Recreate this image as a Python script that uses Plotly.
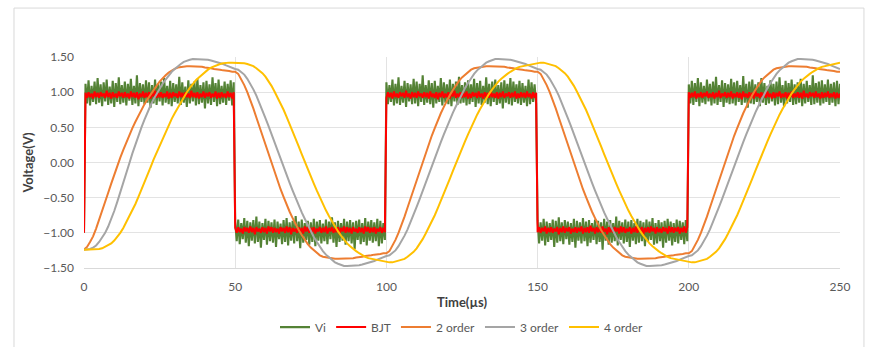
import numpy as np
import plotly.graph_objects as go

# ---------------- data ----------------
# Time axis (µs)
t_fast = np.arange(0, 250.25, 0.5)   # sample times of Vi and BJT (501 samples)
t_filt = np.arange(0, 251, 1)        # sample times of filter outputs (251 samples)

vi = [-1.00,
 1.12, 0.84, 1.17, 0.81, 1.09, 0.86, 1.15, 0.83, 1.20, 0.85,
 1.11, 0.80, 1.14, 0.87, 1.18, 0.82, 1.08, 0.84, 1.16, 0.79,
 1.13, 0.86, 1.21, 0.83, 1.10, 0.85, 1.15, 0.81, 1.12, 0.88,
 1.19, 0.82, 1.09, 0.84, 1.24, 0.80, 1.13, 0.86, 1.11, 0.83,
 1.17, 0.85, 1.14, 0.78, 1.10, 0.84, 1.18, 0.82, 1.12, 0.87,
 1.15, 0.81, 1.20, 0.85, 1.09, 0.83, 1.16, 0.80, 1.13, 0.86,
 1.11, 0.84, 1.22, 0.82, 1.14, 0.85, 1.08, 0.79, 1.17, 0.84,
 1.12, 0.87, 1.15, 0.81, 1.19, 0.83, 1.10, 0.85, 1.14, 0.77,
 1.16, 0.84, 1.11, 0.82, 1.21, 0.86, 1.13, 0.80, 1.18, 0.83,
 1.09, 0.85, 1.15, 0.82, 1.12, 0.88, 1.17, 0.81, 1.14,
 -0.84, -1.12, -0.81, -1.16, -0.86, -1.09, -0.79, -1.14, -0.83, -1.19,
 -0.85, -1.11, -0.82, -1.15, -0.77, -1.13, -0.84, -1.21, -0.86, -1.10,
 -0.80, -1.17, -0.83, -1.12, -0.85, -1.14, -0.81, -1.20, -0.84, -1.09,
 -0.87, -1.16, -0.82, -1.13, -0.79, -1.18, -0.85, -1.11, -0.83, -1.15,
 -0.76, -1.12, -0.84, -1.22, -0.81, -1.14, -0.86, -1.10, -0.83, -1.17,
 -0.85, -1.13, -0.80, -1.19, -0.84, -1.11, -0.82, -1.15, -0.87, -1.12,
 -0.81, -1.16, -0.84, -1.09, -0.78, -1.14, -0.85, -1.20, -0.83, -1.13,
 -0.86, -1.11, -0.80, -1.17, -0.84, -1.12, -0.82, -1.15, -0.85, -1.23,
 -0.83, -1.10, -0.81, -1.16, -0.86, -1.13, -0.79, -1.18, -0.84, -1.11,
 -0.82, -1.14, -0.85, -1.12, -0.80, -1.19, -0.83, -1.15, -0.86, -1.10,
 1.14, 0.83, 1.10, 0.86, 1.18, 0.81, 1.12, 0.84, 1.21, 0.82,
 1.09, 0.85, 1.16, 0.79, 1.13, 0.87, 1.11, 0.83, 1.19, 0.84,
 1.15, 0.80, 1.12, 0.86, 1.24, 0.82, 1.10, 0.85, 1.17, 0.83,
 1.13, 0.78, 1.16, 0.84, 1.09, 0.86, 1.20, 0.81, 1.14, 0.85,
 1.11, 0.83, 1.18, 0.80, 1.12, 0.87, 1.15, 0.82, 1.22, 0.84,
 1.10, 0.85, 1.14, 0.81, 1.17, 0.83, 1.11, 0.86, 1.19, 0.79,
 1.13, 0.84, 1.16, 0.82, 1.09, 0.85, 1.21, 0.83, 1.12, 0.80,
 1.15, 0.86, 1.18, 0.82, 1.10, 0.84, 1.14, 0.77, 1.17, 0.85,
 1.12, 0.83, 1.20, 0.81, 1.15, 0.86, 1.11, 0.84, 1.16, 0.82,
 1.13, 0.85, 1.09, 0.80, 1.18, 0.83, 1.14, 0.86, 1.11, 0.84,
 -0.82, -1.15, -0.85, -1.11, -0.80, -1.18, -0.84, -1.13, -0.86, -1.10,
 -0.81, -1.20, -0.83, -1.14, -0.78, -1.12, -0.85, -1.16, -0.82, -1.09,
 -0.84, -1.17, -0.86, -1.13, -0.80, -1.21, -0.83, -1.11, -0.85, -1.15,
 -0.79, -1.12, -0.84, -1.19, -0.82, -1.14, -0.86, -1.10, -0.81, -1.16,
 -0.83, -1.13, -0.85, -1.24, -0.80, -1.11, -0.84, -1.17, -0.82, -1.14,
 -0.86, -1.12, -0.77, -1.18, -0.83, -1.10, -0.85, -1.15, -0.81, -1.13,
 -0.84, -1.20, -0.82, -1.11, -0.86, -1.16, -0.80, -1.14, -0.83, -1.12,
 -0.85, -1.19, -0.81, -1.13, -0.84, -1.10, -0.79, -1.17, -0.86, -1.15,
 -0.82, -1.12, -0.85, -1.21, -0.83, -1.14, -0.80, -1.11, -0.84, -1.18,
 -0.86, -1.13, -0.81, -1.15, -0.83, -1.10, -0.85, -1.16, -0.82, -1.12,
 1.11, 0.84, 1.16, 0.82, 1.13, 0.86, 1.20, 0.80, 1.14, 0.85,
 1.09, 0.83, 1.18, 0.87, 1.12, 0.81, 1.15, 0.84, 1.22, 0.82,
 1.10, 0.86, 1.17, 0.79, 1.13, 0.85, 1.11, 0.83, 1.19, 0.84,
 1.14, 0.81, 1.16, 0.86, 1.10, 0.82, 1.23, 0.85, 1.12, 0.78,
 1.15, 0.84, 1.18, 0.83, 1.11, 0.86, 1.14, 0.80, 1.20, 0.85,
 1.13, 0.82, 1.09, 0.84, 1.17, 0.87, 1.12, 0.81, 1.15, 0.83,
 1.21, 0.85, 1.10, 0.79, 1.16, 0.84, 1.13, 0.86, 1.18, 0.82,
 1.11, 0.83, 1.14, 0.85, 1.19, 0.80, 1.12, 0.84, 1.16, 0.86,
 1.10, 0.82, 1.24, 0.83, 1.13, 0.85, 1.15, 0.81, 1.17, 0.84,
 1.11, 0.86, 1.18, 0.82, 1.12, 0.85, 1.14, 0.80, 1.16, 0.83,
 1.12]

bjt = [-1.00,
 0.99, 0.92, 1.00, 0.93, 0.98, 0.91, 1.01, 0.93, 0.99, 0.92,
 1.00, 0.94, 0.98, 0.92, 1.02, 0.93, 0.99, 0.91, 1.00, 0.93,
 0.98, 0.92, 1.01, 0.94, 0.99, 0.92, 1.00, 0.93, 0.98, 0.91,
 1.01, 0.93, 0.99, 0.92, 1.00, 0.90, 0.98, 0.93, 1.01, 0.92,
 0.99, 0.93, 1.00, 0.91, 0.98, 0.94, 1.02, 0.92, 0.99, 0.93,
 1.00, 0.92, 0.98, 0.93, 1.01, 0.91, 0.99, 0.92, 1.00, 0.94,
 0.98, 0.92, 1.01, 0.93, 0.99, 0.91, 1.00, 0.93, 0.98, 0.92,
 1.02, 0.93, 0.99, 0.92, 1.00, 0.91, 0.98, 0.93, 1.01, 0.92,
 0.99, 0.94, 1.00, 0.92, 0.98, 0.93, 1.01, 0.91, 0.99, 0.92,
 1.00, 0.93, 0.98, 0.92, 1.01, 0.93, 0.99, 0.91, 1.00,
 -0.93, -1.00, -0.92, -0.99, -0.94, -1.01, -0.92, -0.98, -0.93, -1.00,
 -0.91, -0.99, -0.93, -1.02, -0.92, -0.98, -0.94, -1.00, -0.92, -0.99,
 -0.93, -1.01, -0.91, -0.98, -0.92, -1.00, -0.93, -0.99, -0.94, -1.01,
 -0.92, -0.98, -0.93, -1.00, -0.91, -0.99, -0.92, -1.02, -0.93, -0.98,
 -0.94, -1.00, -0.92, -0.99, -0.93, -1.01, -0.91, -0.98, -0.92, -1.00,
 -0.93, -0.99, -0.92, -1.01, -0.94, -0.98, -0.92, -1.00, -0.93, -0.99,
 -0.91, -1.01, -0.93, -0.98, -0.92, -1.00, -0.94, -0.99, -0.92, -1.02,
 -0.93, -0.98, -0.91, -1.00, -0.92, -0.99, -0.93, -1.01, -0.92, -0.98,
 -0.94, -1.00, -0.92, -0.99, -0.93, -1.01, -0.91, -0.98, -0.92, -1.00,
 -0.93, -0.99, -0.92, -1.01, -0.94, -0.98, -0.92, -1.00, -0.93, -0.99,
 0.92, 1.00, 0.93, 0.99, 0.91, 1.01, 0.93, 0.98, 0.92, 1.00,
 0.94, 0.99, 0.92, 1.02, 0.93, 0.98, 0.91, 1.00, 0.93, 0.99,
 0.92, 1.01, 0.94, 0.98, 0.92, 1.00, 0.93, 0.99, 0.91, 1.01,
 0.93, 0.98, 0.92, 1.00, 0.90, 0.99, 0.93, 1.01, 0.92, 0.98,
 0.93, 1.00, 0.91, 0.99, 0.94, 1.02, 0.92, 0.98, 0.93, 1.00,
 0.92, 0.99, 0.93, 1.01, 0.91, 0.98, 0.92, 1.00, 0.94, 0.99,
 0.92, 1.01, 0.93, 0.98, 0.91, 1.00, 0.93, 0.99, 0.92, 1.02,
 0.93, 0.98, 0.92, 1.00, 0.91, 0.99, 0.93, 1.01, 0.92, 0.98,
 0.94, 1.00, 0.92, 0.99, 0.93, 1.01, 0.91, 0.98, 0.92, 1.00,
 0.93, 0.99, 0.92, 1.01, 0.93, 0.98, 0.91, 1.00, 0.92, 0.99,
 -0.99, -0.92, -1.00, -0.93, -0.98, -0.91, -1.01, -0.93, -0.99, -0.92,
 -1.00, -0.94, -0.98, -0.92, -1.02, -0.93, -0.99, -0.91, -1.00, -0.93,
 -0.98, -0.92, -1.01, -0.94, -0.99, -0.92, -1.00, -0.93, -0.98, -0.91,
 -1.01, -0.93, -0.99, -0.92, -1.00, -0.90, -0.98, -0.93, -1.01, -0.92,
 -0.99, -0.93, -1.00, -0.91, -0.98, -0.94, -1.02, -0.92, -0.99, -0.93,
 -1.00, -0.92, -0.98, -0.93, -1.01, -0.91, -0.99, -0.92, -1.00, -0.94,
 -0.98, -0.92, -1.01, -0.93, -0.99, -0.91, -1.00, -0.93, -0.98, -0.92,
 -1.02, -0.93, -0.99, -0.92, -1.00, -0.91, -0.98, -0.93, -1.01, -0.92,
 -0.99, -0.94, -1.00, -0.92, -0.98, -0.93, -1.01, -0.91, -0.99, -0.92,
 -1.00, -0.93, -0.98, -0.92, -1.01, -0.93, -0.99, -0.91, -1.00, -0.92,
 1.00, 0.92, 0.99, 0.93, 1.01, 0.91, 0.98, 0.93, 1.00, 0.92,
 0.99, 0.94, 1.01, 0.92, 0.98, 0.93, 1.00, 0.91, 0.99, 0.93,
 1.02, 0.92, 0.98, 0.94, 1.00, 0.92, 0.99, 0.93, 1.01, 0.91,
 0.98, 0.93, 1.00, 0.92, 0.99, 0.90, 1.01, 0.93, 0.98, 0.92,
 1.00, 0.93, 0.99, 0.91, 1.02, 0.94, 0.98, 0.92, 1.00, 0.93,
 0.99, 0.92, 1.01, 0.93, 0.98, 0.91, 1.00, 0.92, 0.99, 0.94,
 1.01, 0.92, 0.98, 0.93, 1.00, 0.91, 0.99, 0.93, 1.01, 0.92,
 0.98, 0.93, 1.00, 0.92, 0.99, 0.91, 1.02, 0.93, 0.98, 0.92,
 1.00, 0.94, 0.99, 0.92, 1.01, 0.93, 0.98, 0.91, 1.00, 0.92,
 0.99, 0.93, 1.01, 0.92, 0.98, 0.93, 1.00, 0.91, 0.99, 0.92,
 0.98]

order2 = [
 -1.24, -1.20, -1.13, -1.05, -0.94, -0.82, -0.69, -0.55, -0.43, -0.30,
 -0.17, -0.05, 0.07, 0.18, 0.29, 0.39, 0.49, 0.58, 0.67, 0.75,
 0.83, 0.90, 0.97, 1.03, 1.09, 1.15, 1.20, 1.24, 1.28, 1.31,
 1.33, 1.35, 1.36, 1.37, 1.37, 1.37, 1.37, 1.37, 1.36, 1.36,
 1.35, 1.35, 1.34, 1.33, 1.33, 1.32, 1.31, 1.31, 1.30, 1.29,
 1.29,
 1.26, 1.19, 1.10, 1.00, 0.89, 0.77, 0.64, 0.51, 0.38, 0.25,
 0.12, -0.01, -0.14, -0.26, -0.38, -0.49, -0.60, -0.70, -0.79, -0.88,
 -0.96, -1.03, -1.10, -1.16, -1.21, -1.25, -1.29, -1.32, -1.34, -1.35,
 -1.36, -1.37, -1.37, -1.37, -1.37, -1.37, -1.37, -1.36, -1.36, -1.35,
 -1.35, -1.34, -1.33, -1.33, -1.32, -1.31, -1.31, -1.30, -1.29, -1.29,
 -1.26, -1.19, -1.10, -1.00, -0.89, -0.77, -0.64, -0.51, -0.38, -0.25,
 -0.12, 0.01, 0.14, 0.26, 0.38, 0.49, 0.60, 0.70, 0.79, 0.88,
 0.96, 1.03, 1.10, 1.16, 1.21, 1.25, 1.29, 1.32, 1.34, 1.35,
 1.36, 1.37, 1.37, 1.37, 1.37, 1.37, 1.37, 1.36, 1.36, 1.35,
 1.35, 1.34, 1.33, 1.33, 1.32, 1.31, 1.31, 1.30, 1.29, 1.29,
 1.26, 1.19, 1.10, 1.00, 0.89, 0.77, 0.64, 0.51, 0.38, 0.25,
 0.12, -0.01, -0.14, -0.26, -0.38, -0.49, -0.60, -0.70, -0.79, -0.88,
 -0.96, -1.03, -1.10, -1.16, -1.21, -1.25, -1.29, -1.32, -1.34, -1.35,
 -1.36, -1.37, -1.37, -1.37, -1.37, -1.37, -1.37, -1.36, -1.36, -1.35,
 -1.35, -1.34, -1.33, -1.33, -1.32, -1.31, -1.31, -1.30, -1.29, -1.29,
 -1.26, -1.19, -1.10, -1.00, -0.89, -0.77, -0.64, -0.51, -0.38, -0.25,
 -0.12, 0.01, 0.14, 0.26, 0.38, 0.49, 0.60, 0.70, 0.79, 0.88,
 0.96, 1.03, 1.10, 1.16, 1.21, 1.25, 1.29, 1.32, 1.34, 1.35,
 1.36, 1.37, 1.37, 1.37, 1.37, 1.37, 1.37, 1.36, 1.36, 1.35,
 1.35, 1.34, 1.33, 1.33, 1.32, 1.31, 1.31, 1.30, 1.29, 1.29]

order3 = [
 -1.24, -1.24, -1.23, -1.21, -1.18, -1.13, -1.07, -1.00, -0.91, -0.81,
 -0.69, -0.56, -0.43, -0.29, -0.15, -0.01, 0.13, 0.26, 0.38, 0.50,
 0.61, 0.72, 0.81, 0.90, 0.98, 1.05, 1.12, 1.18, 1.24, 1.29,
 1.33, 1.37, 1.40, 1.43, 1.45, 1.46, 1.47, 1.47, 1.47, 1.47,
 1.46, 1.46, 1.45, 1.44, 1.43, 1.42, 1.40, 1.38, 1.36, 1.35,
 1.33,
 1.32, 1.29, 1.25, 1.19, 1.12, 1.04, 0.95, 0.85, 0.74, 0.63,
 0.52, 0.40, 0.28, 0.16, 0.05, -0.07, -0.18, -0.29, -0.40, -0.51,
 -0.61, -0.71, -0.80, -0.89, -0.98, -1.06, -1.13, -1.20, -1.26, -1.31,
 -1.35, -1.39, -1.42, -1.44, -1.46, -1.47, -1.47, -1.47, -1.47, -1.46,
 -1.46, -1.45, -1.44, -1.43, -1.42, -1.40, -1.38, -1.36, -1.35, -1.33,
 -1.32, -1.29, -1.25, -1.19, -1.12, -1.04, -0.95, -0.85, -0.74, -0.63,
 -0.52, -0.40, -0.28, -0.16, -0.05, 0.07, 0.18, 0.29, 0.40, 0.51,
 0.61, 0.71, 0.80, 0.89, 0.98, 1.06, 1.13, 1.20, 1.26, 1.31,
 1.35, 1.39, 1.42, 1.44, 1.46, 1.47, 1.47, 1.47, 1.47, 1.46,
 1.46, 1.45, 1.44, 1.43, 1.42, 1.40, 1.38, 1.36, 1.35, 1.33,
 1.32, 1.29, 1.25, 1.19, 1.12, 1.04, 0.95, 0.85, 0.74, 0.63,
 0.52, 0.40, 0.28, 0.16, 0.05, -0.07, -0.18, -0.29, -0.40, -0.51,
 -0.61, -0.71, -0.80, -0.89, -0.98, -1.06, -1.13, -1.20, -1.26, -1.31,
 -1.35, -1.39, -1.42, -1.44, -1.46, -1.47, -1.47, -1.47, -1.47, -1.46,
 -1.46, -1.45, -1.44, -1.43, -1.42, -1.40, -1.38, -1.36, -1.35, -1.33,
 -1.32, -1.29, -1.25, -1.19, -1.12, -1.04, -0.95, -0.85, -0.74, -0.63,
 -0.52, -0.40, -0.28, -0.16, -0.05, 0.07, 0.18, 0.29, 0.40, 0.51,
 0.61, 0.71, 0.80, 0.89, 0.98, 1.06, 1.13, 1.20, 1.26, 1.31,
 1.35, 1.39, 1.42, 1.44, 1.46, 1.47, 1.47, 1.47, 1.47, 1.46,
 1.46, 1.45, 1.44, 1.43, 1.42, 1.40, 1.38, 1.36, 1.35, 1.33]

order4 = [
 -1.24, -1.24, -1.24, -1.24, -1.24, -1.23, -1.22, -1.20, -1.18, -1.15,
 -1.11, -1.06, -1.00, -0.93, -0.85, -0.77, -0.68, -0.59, -0.49, -0.39,
 -0.29, -0.18, -0.07, 0.04, 0.14, 0.24, 0.34, 0.44, 0.53, 0.62,
 0.70, 0.78, 0.86, 0.93, 1.00, 1.06, 1.12, 1.17, 1.21, 1.25,
 1.29, 1.32, 1.35, 1.37, 1.39, 1.40, 1.41, 1.42, 1.42, 1.42,
 1.42,
 1.42, 1.42, 1.41, 1.40, 1.39, 1.37, 1.34, 1.31, 1.27, 1.22,
 1.16, 1.09, 1.01, 0.93, 0.84, 0.75, 0.65, 0.55, 0.45, 0.34,
 0.23, 0.12, 0.01, -0.10, -0.20, -0.30, -0.40, -0.50, -0.59, -0.68,
 -0.76, -0.84, -0.91, -0.98, -1.04, -1.10, -1.15, -1.19, -1.23, -1.26,
 -1.29, -1.32, -1.34, -1.36, -1.37, -1.38, -1.39, -1.40, -1.41, -1.42,
 -1.42, -1.42, -1.41, -1.40, -1.39, -1.37, -1.34, -1.31, -1.27, -1.22,
 -1.16, -1.09, -1.01, -0.93, -0.84, -0.75, -0.65, -0.55, -0.45, -0.34,
 -0.23, -0.12, -0.01, 0.10, 0.20, 0.30, 0.40, 0.50, 0.59, 0.68,
 0.76, 0.84, 0.91, 0.98, 1.04, 1.10, 1.15, 1.19, 1.23, 1.26,
 1.29, 1.32, 1.34, 1.36, 1.37, 1.38, 1.39, 1.40, 1.41, 1.42,
 1.42, 1.42, 1.41, 1.40, 1.39, 1.37, 1.34, 1.31, 1.27, 1.22,
 1.16, 1.09, 1.01, 0.93, 0.84, 0.75, 0.65, 0.55, 0.45, 0.34,
 0.23, 0.12, 0.01, -0.10, -0.20, -0.30, -0.40, -0.50, -0.59, -0.68,
 -0.76, -0.84, -0.91, -0.98, -1.04, -1.10, -1.15, -1.19, -1.23, -1.26,
 -1.29, -1.32, -1.34, -1.36, -1.37, -1.38, -1.39, -1.40, -1.41, -1.42,
 -1.42, -1.42, -1.41, -1.40, -1.39, -1.37, -1.34, -1.31, -1.27, -1.22,
 -1.16, -1.09, -1.01, -0.93, -0.84, -0.75, -0.65, -0.55, -0.45, -0.34,
 -0.23, -0.12, -0.01, 0.10, 0.20, 0.30, 0.40, 0.50, 0.59, 0.68,
 0.76, 0.84, 0.91, 0.98, 1.04, 1.10, 1.15, 1.19, 1.23, 1.26,
 1.29, 1.32, 1.34, 1.36, 1.37, 1.38, 1.39, 1.40, 1.41, 1.42]

series_names = ["Vi", "BJT", "2 order", "3 order", "4 order"]
x_ticks = [0, 50, 100, 150, 200, 250]
y_ticks = [-1.5, -1.0, -0.5, 0.0, 0.5, 1.0, 1.5]

# ---------------- figure ----------------
FONT = "Lato, 'Open Sans', sans-serif"
fig = go.Figure()
fig.add_trace(go.Scatter(x=t_fast, y=vi, name=series_names[0], mode="lines",
                         line=dict(color="#548235", width=2.1, simplify=False)))
fig.add_trace(go.Scatter(x=t_fast, y=bjt, name=series_names[1], mode="lines",
                         line=dict(color="#FF0000", width=2.0, simplify=False)))
fig.add_trace(go.Scatter(x=t_filt, y=order2, name=series_names[2], mode="lines",
                         line=dict(color="#ED7D31", width=2)))
fig.add_trace(go.Scatter(x=t_filt, y=order3, name=series_names[3], mode="lines",
                         line=dict(color="#A5A5A5", width=2)))
fig.add_trace(go.Scatter(x=t_filt, y=order4, name=series_names[4], mode="lines",
                         line=dict(color="#FFC000", width=2)))

fig.update_layout(
    width=874, height=347,
    margin=dict(l=84, r=34, t=57, b=79, autoexpand=False),
    paper_bgcolor="white", plot_bgcolor="white",
    font=dict(family=FONT, size=12, color="#595959"),
    showlegend=True,
    legend=dict(orientation="h", x=0.5, xanchor="center", y=-0.28, yanchor="middle",
                font=dict(size=12, color="#595959"), itemwidth=30,
                bgcolor="rgba(0,0,0,0)"),
    shapes=[dict(type="rect", xref="paper", yref="paper",
                 x0=-0.0926, x1=1.0317, y0=-0.45, y1=1.232,
                 line=dict(color="#D9D9D9", width=1), layer="below")],
)
fig.update_xaxes(range=[0, 250], tickvals=x_ticks, ticktext=[str(v) for v in x_ticks],
                 showgrid=True, gridcolor="#E3E3E3", gridwidth=1,
                 showline=True, linecolor="#D9D9D9", linewidth=1,
                 zeroline=False, ticks="", ticklabelstandoff=8, automargin=False,
                 tickfont=dict(size=12, color="#595959"),
                 title=dict(text="<b>Time(µs)</b>", font=dict(size=13, color="#404040"), standoff=4))
fig.update_yaxes(range=[-1.5, 1.5], tickvals=y_ticks, tickformat=".2f",
                 showgrid=True, gridcolor="#E3E3E3", gridwidth=1,
                 showline=False, zeroline=False, ticks="", ticklabelstandoff=9, automargin=False,
                 tickfont=dict(size=12, color="#595959"),
                 title=dict(text="<b>Voltage(V)</b>", font=dict(size=13, color="#404040"), standoff=6))

fig.write_html("out.html")
